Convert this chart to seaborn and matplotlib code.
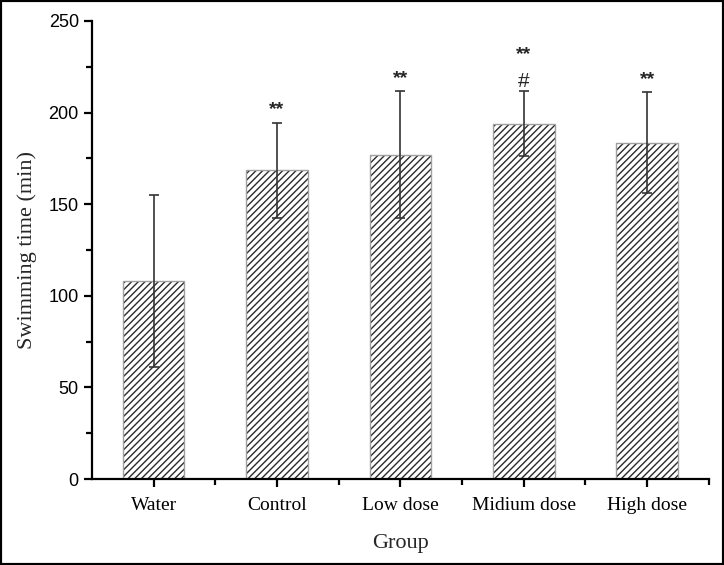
import pandas as pd
import numpy as np
import matplotlib.pyplot as plt
import seaborn as sns
from matplotlib.patches import Rectangle
from matplotlib.ticker import MultipleLocator

# data
groups = ["Water", "Control", "Low dose", "Midium dose", "High dose"]
means = [108, 168.5, 177, 194, 183.5]
errors = [47, 26, 34.5, 17.5, 27.5]
marks = ["", "**", "**", "#", "**"]
extra_marks = ["", "", "", "**", ""]

df = pd.DataFrame({"Group": groups, "Swimming time (min)": means})

sns.set_style("ticks")
plt.rcParams["hatch.linewidth"] = 1.0

fig = plt.figure(figsize=(7.24, 5.65), dpi=100)
ax = fig.add_axes([0.127, 0.152, 0.852, 0.811])

# hatch takes the edge colour, so draw bars with dark edge of zero width
sns.barplot(data=df, x="Group", y="Swimming time (min)", ax=ax, width=0.5,
            color="white", edgecolor="#2a2a2a", linewidth=0, errorbar=None)
for bar in list(ax.patches):
    bar.set_hatch("/////")
    # grey outline on top
    ax.add_patch(Rectangle(bar.get_xy(), bar.get_width(), bar.get_height(),
                           fill=False, edgecolor="#a0a0a0", linewidth=1.0))

ax.errorbar(np.arange(len(groups)), means, yerr=errors, fmt="none",
            ecolor="#333333", elinewidth=1.2, capsize=3.5, capthick=1.2)

# significance marks above the error bars
for i, (m, e) in enumerate(zip(means, errors)):
    top = m + e
    if marks[i] == "#":
        ax.text(i, top + 0.5, "#", ha="center", va="bottom", fontsize=15,
                family="Liberation Sans")
    elif marks[i]:
        ax.text(i, top + 2.5, marks[i], ha="center", va="bottom", fontsize=14,
                fontweight="bold", family="Liberation Sans")
    if extra_marks[i]:
        ax.text(i, top + 15.5, extra_marks[i], ha="center", va="bottom", fontsize=14,
                fontweight="bold", family="Liberation Sans")

ax.set_xlim(-0.5, len(groups) - 0.5)
ax.set_ylim(0, 250)
ax.yaxis.set_major_locator(MultipleLocator(50))
ax.yaxis.set_minor_locator(MultipleLocator(25))
ax.set_xticks(np.arange(len(groups)))
ax.set_xticks(np.arange(len(groups)) + 0.5, minor=True)

sns.despine(ax=ax)
for side in ["left", "bottom"]:
    ax.spines[side].set_linewidth(1.6)
    ax.spines[side].set_color("black")
ax.tick_params(which="major", length=6, width=1.6, direction="out", colors="black")
ax.tick_params(which="minor", length=4, width=1.6, direction="out", colors="black")
ax.tick_params(axis="x", pad=7)

for lab in ax.get_yticklabels():
    lab.set_family("Liberation Sans")
    lab.set_fontsize(13)
for lab in ax.get_xticklabels():
    lab.set_family("Liberation Serif")
    lab.set_fontsize(14)

ax.set_xlabel("Group", family="Liberation Serif", fontsize=16, labelpad=14)
ax.set_ylabel("Swimming time (min)", family="Liberation Serif", fontsize=16, labelpad=8)

# thin black frame round the whole picture
fig.add_artist(Rectangle((0, 0), 1, 1, transform=fig.transFigure, fill=False,
                         edgecolor="black", linewidth=3))

fig.savefig("out.png", dpi=100)
